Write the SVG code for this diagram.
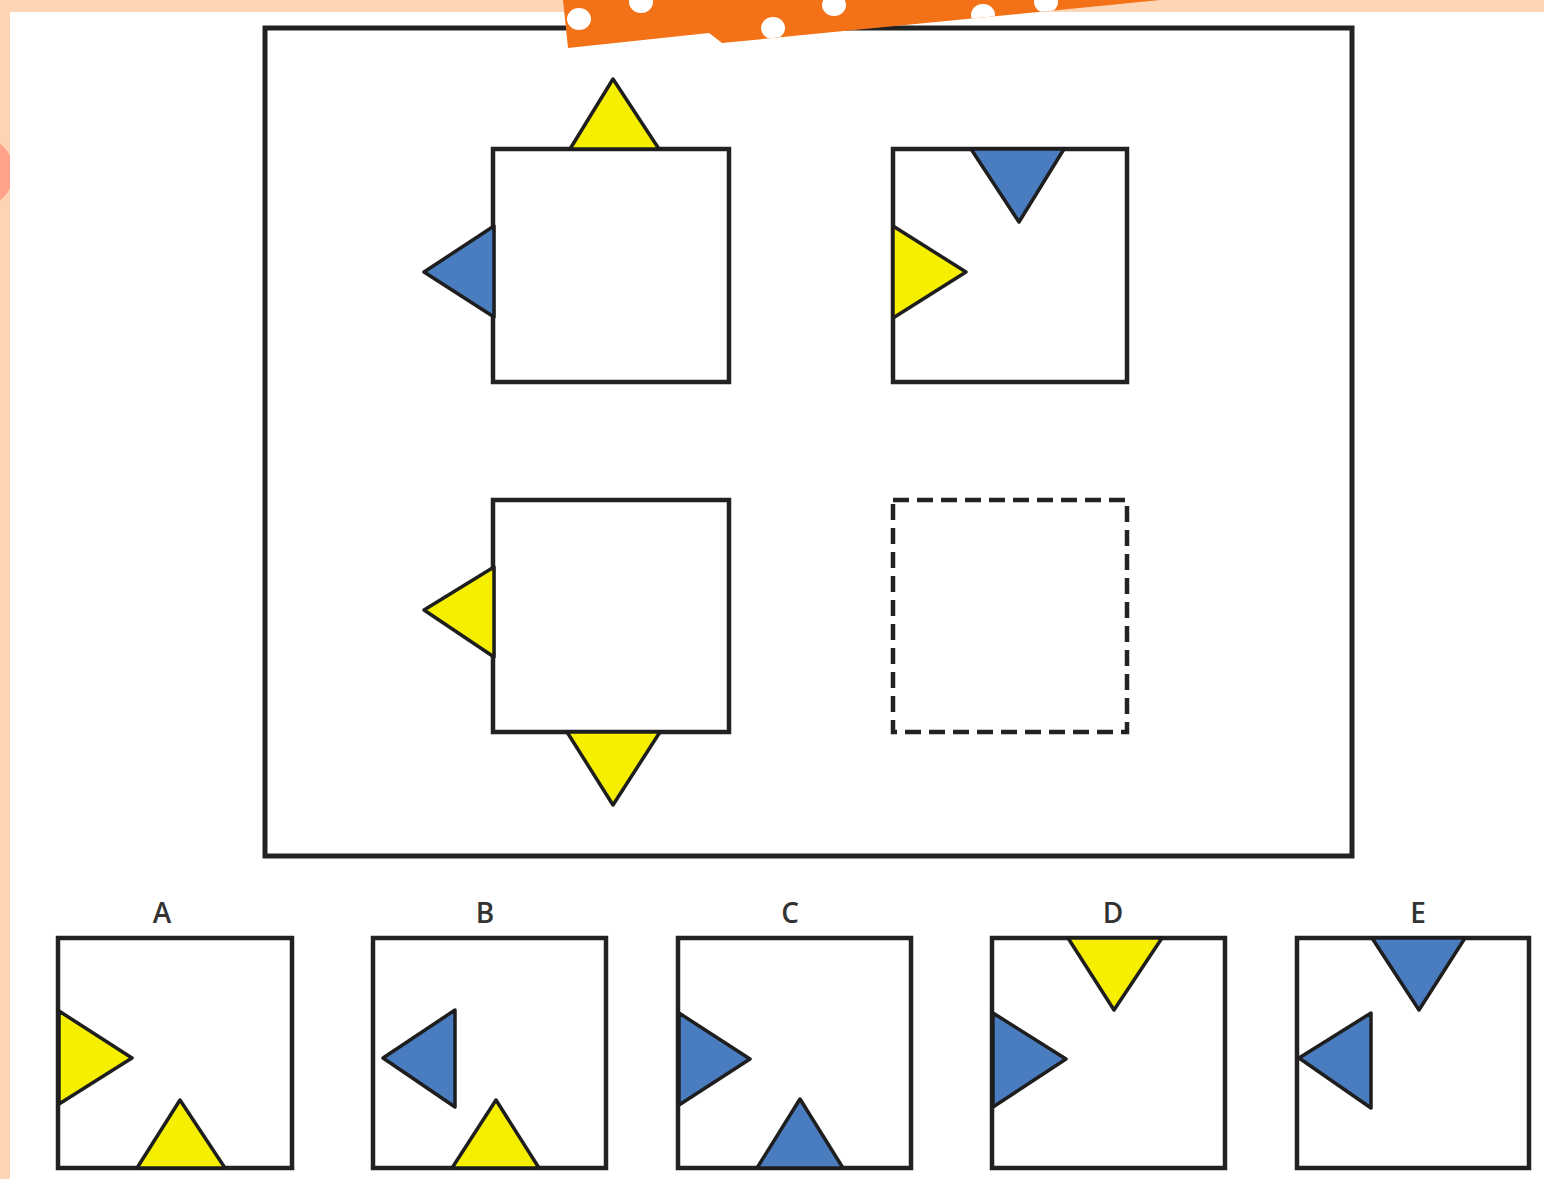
<svg xmlns="http://www.w3.org/2000/svg" width="1544" height="1179" viewBox="0 0 1544 1179">
<defs>
<style>
.sq{fill:#fff;stroke:#222;stroke-width:4.5}
.dash{fill:#fff;stroke:#222;stroke-width:4.5;stroke-dasharray:16 8}
.y{fill:#f7ef00;stroke:#1e1e1e;stroke-width:3.5;stroke-linejoin:round}
.b{fill:#4a7cc0;stroke:#1e1e1e;stroke-width:3.5;stroke-linejoin:round}
.lbl{font-family:"Open Sans","DejaVu Sans",sans-serif;font-size:28px;font-weight:600;fill:#333;text-anchor:middle}
.dot{fill:#fff}
</style>
<clipPath id="bannerClip"><polygon points="563,0 1160,0 722,43 709,33 568,48"/></clipPath>
</defs>
<rect x="0" y="0" width="1544" height="1179" fill="#fdd5b5"/>
<circle cx="-22" cy="172" r="36" fill="#ffa38c"/>
<rect x="10" y="12" width="1534" height="1167" fill="#fff"/>
<g id="frame"><rect x="265" y="28" width="1087" height="828" fill="none" stroke="#222" stroke-width="5"/></g>
<g id="banner">
<polygon points="563,0 1160,0 722,43 709,33 568,48" fill="#f47217"/>
<g clip-path="url(#bannerClip)">
<ellipse class="dot" cx="579" cy="19" rx="12" ry="11"/>
<ellipse class="dot" cx="641" cy="2" rx="12" ry="11"/>
<ellipse class="dot" cx="773" cy="28" rx="12" ry="11"/>
<ellipse class="dot" cx="834" cy="5" rx="12" ry="11"/>
<ellipse class="dot" cx="983" cy="15" rx="12" ry="11"/>
<ellipse class="dot" cx="1046" cy="2" rx="12" ry="11"/>
</g>
</g>
<g id="cell-tl">
<rect class="sq" x="493" y="149" width="236" height="233"/>
<polygon class="y" points="570,149 613,79 659,149"/>
<polygon class="b" points="494,226 424,272 494,317"/>
</g>
<g id="cell-tr">
<rect class="sq" x="893" y="149" width="234" height="233"/>
<polygon class="b" points="971,149 1064,149 1019,222"/>
<polygon class="y" points="893,226 966,272 893,318"/>
</g>
<g id="cell-bl">
<rect class="sq" x="493" y="500" width="236" height="232"/>
<polygon class="y" points="494,567 424,610 494,657"/>
<polygon class="y" points="567,732 660,732 613,805"/>
</g>
<g id="cell-missing">
<rect class="dash" x="893" y="500" width="234" height="232"/>
</g>
<g id="option-a">
<text class="lbl" x="162" y="923">A</text>
<rect class="sq" x="58" y="938" width="234" height="230"/>
<polygon class="y" points="59,1011 132,1058 59,1104"/>
<polygon class="y" points="137,1168 180,1100 225,1168"/>
</g>
<g id="option-b">
<text class="lbl" x="485" y="923">B</text>
<rect class="sq" x="373" y="938" width="233" height="230"/>
<polygon class="b" points="455,1010 383,1058 455,1107"/>
<polygon class="y" points="452,1168 496,1100 539,1168"/>
</g>
<g id="option-c">
<text class="lbl" x="790" y="923">C</text>
<rect class="sq" x="678" y="938" width="233" height="230"/>
<polygon class="b" points="679,1013 750,1059 679,1105"/>
<polygon class="b" points="757,1168 800,1099 843,1168"/>
</g>
<g id="option-d">
<text class="lbl" x="1113" y="923">D</text>
<rect class="sq" x="992" y="938" width="233" height="230"/>
<polygon class="y" points="1068,938 1162,938 1114,1010"/>
<polygon class="b" points="993,1013 1066,1059 993,1107"/>
</g>
<g id="option-e">
<text class="lbl" x="1418" y="923">E</text>
<rect class="sq" x="1297" y="938" width="232" height="230"/>
<polygon class="b" points="1372,938 1465,938 1419,1010"/>
<polygon class="b" points="1371,1013 1299,1058 1371,1108"/>
</g>
</svg>
